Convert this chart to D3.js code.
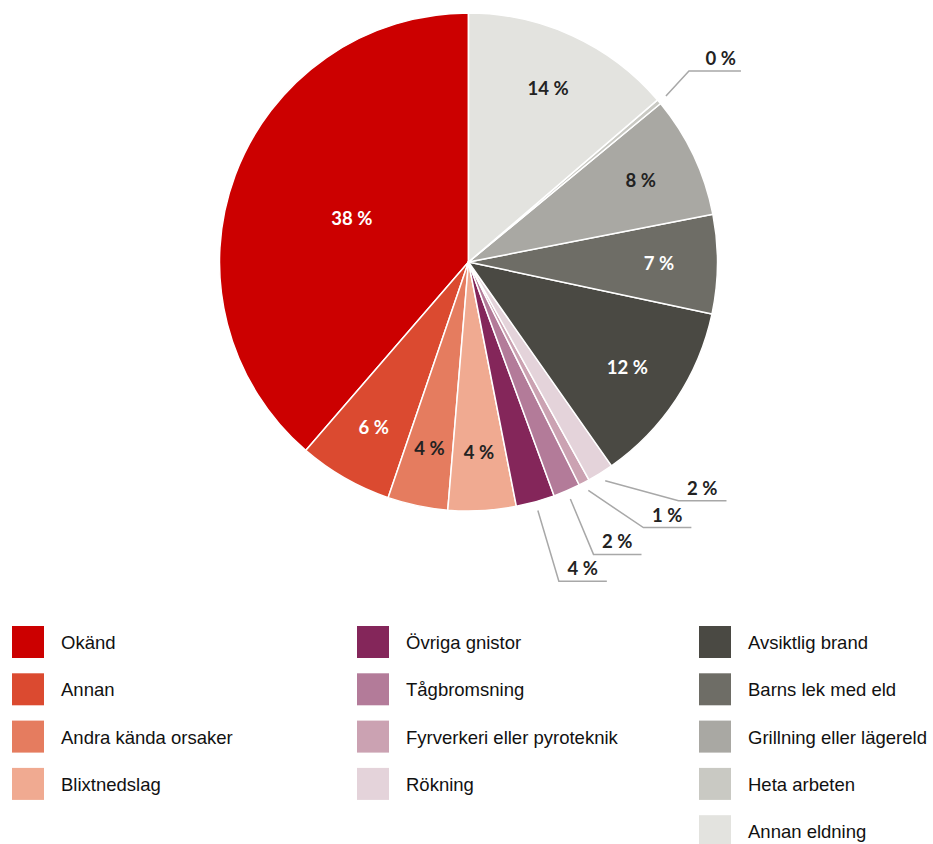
<!DOCTYPE html>
<html>
<head>
<meta charset="utf-8">
<script src="https://cdn.jsdelivr.net/npm/d3@7"></script>
<style>
  html, body { margin: 0; padding: 0; background: #fff; }
  svg { display: block; }
</style>
</head>
<body>
<svg id="chart" width="933" height="844"></svg>
<script>
// ---- data ----
const categories = [
  "Okänd", "Annan", "Andra kända orsaker", "Blixtnedslag",
  "Övriga gnistor", "Tågbromsning", "Fyrverkeri eller pyroteknik", "Rökning",
  "Avsiktlig brand", "Barns lek med eld", "Grillning eller lägereld", "Heta arbeten", "Annan eldning"
];
const values = [38.6, 6.1, 3.9, 4.4, 2.5, 1.75, 0.7, 1.7, 11.9, 6.4, 7.9, 0.3, 13.7];
const labelTexts = ["38 %", "6 %", "4 %", "4 %", "4 %", "2 %", "1 %", "2 %", "12 %", "7 %", "8 %", "0 %", "14 %"];
const colors = [
  "#cc0000", "#db4a30", "#e57c5f", "#f0aa91",
  "#84265a", "#b37b99", "#cba2b2", "#e4d3da",
  "#4a4943", "#6e6d66", "#a9a8a3", "#c9c9c3", "#e3e3df"
];
const outsideLabel = [false, false, false, false, true, true, true, true, false, false, false, true, false];
const legendColumns = [
  ["Okänd", "Annan", "Andra kända orsaker", "Blixtnedslag"],
  ["Övriga gnistor", "Tågbromsning", "Fyrverkeri eller pyroteknik", "Rökning"],
  ["Avsiktlig brand", "Barns lek med eld", "Grillning eller lägereld", "Heta arbeten", "Annan eldning"]
];

// ---- layout ----
const cx = 468.5, cy = 262, R = 249;
const svg = d3.select("#chart");
const g = svg.append("g").attr("transform", `translate(${cx},${cy})`);

const data = categories.map((c, i) => ({ name: c, value: values[i], label: labelTexts[i], color: colors[i], outside: outsideLabel[i], idx: i }));

// counter-clockwise from 12 o'clock, starting with Okänd
const pie = d3.pie().value(d => d.value).sort(null)
  .startAngle(2 * Math.PI).endAngle(0);
const arcs = pie(data);
const arc = d3.arc().innerRadius(0).outerRadius(R);

g.selectAll("path.slice").data(arcs).join("path")
  .attr("class", "slice")
  .attr("d", arc)
  .attr("fill", d => d.data.color)
  .attr("stroke", "#fff")
  .attr("stroke-width", 1.5)
  .attr("stroke-linejoin", "round");

const labelFont = "Lato, 'Open Sans', sans-serif";
const labelSize = 18.5;
const darkFill = new Set(["#cc0000", "#db4a30", "#4a4943", "#6e6d66", "#84265a"]);

// inner labels
const inner = arcs.filter(d => !d.data.outside);
g.selectAll("text.inner").data(inner).join("text")
  .attr("class", "inner")
  .each(function(d) {
    const mid = (d.startAngle + d.endAngle) / 2;
    const frac = Math.abs(d.endAngle - d.startAngle) / (2 * Math.PI);
    const r = frac > 0.25 ? R * 0.5 : R * 0.765;
    d3.select(this)
      .attr("x", r * Math.sin(mid))
      .attr("y", -r * Math.cos(mid))
      .attr("dy", "0.35em");
  })
  .attr("text-anchor", "middle")
  .attr("font-family", labelFont)
  .attr("font-weight", 700)
  .attr("font-size", labelSize)
  .attr("fill", d => darkFill.has(d.data.color) ? "#ffffff" : "#222222")
  .text(d => d.data.label);

// outside labels with leader lines
const outer = arcs.filter(d => d.data.outside).map(d => {
  const mid = (d.startAngle + d.endAngle) / 2;
  const sx = (R + 9) * Math.sin(mid), sy = -(R + 9) * Math.cos(mid);
  return { d, mid, sx, sy };
});
const lower = outer.filter(o => o.sy > 0).sort((a, b) => a.sy - b.sy);
let prevY = -Infinity;
lower.forEach(o => {
  let ey = Math.max(o.sy + 20, prevY + 26.8);
  prevY = ey;
  const rr = 318;
  const circX = ey < rr ? Math.sqrt(rr * rr - ey * ey) : 0;
  o.ex = Math.max(circX, o.sx + 21);
  o.ey = ey;
  o.lineLen = 48;
  o.textPad = 9;
});
outer.filter(o => o.sy <= 0).forEach(o => {
  o.ex = o.sx + 23;
  o.ey = o.sy - 25;
  o.lineLen = 52;
  o.textPad = 5;
});
const og = g.selectAll("g.outer").data(outer).join("g").attr("class", "outer");
og.append("polyline")
  .attr("points", o => `${o.sx},${o.sy} ${o.ex},${o.ey} ${o.ex + o.lineLen},${o.ey}`)
  .attr("fill", "none")
  .attr("stroke", "#a8a8a8")
  .attr("stroke-width", 1.5);
og.append("text")
  .attr("x", o => o.ex + o.lineLen - o.textPad)
  .attr("y", o => o.ey - 6)
  .attr("text-anchor", "end")
  .attr("font-family", labelFont)
  .attr("font-weight", 700)
  .attr("font-size", labelSize)
  .attr("fill", "#222222")
  .text(o => o.d.data.label);

// ---- legend ----
const colX = [12, 357, 699];
const legTop = 626, rowStep = 47.3, sw = 32;
const colorOf = name => colors[categories.indexOf(name)];
legendColumns.forEach((col, ci) => {
  const lg = svg.append("g").attr("transform", `translate(${colX[ci]},${legTop})`);
  const items = lg.selectAll("g").data(col).join("g")
    .attr("transform", (d, i) => `translate(0,${i * rowStep})`);
  items.append("rect")
    .attr("width", sw).attr("height", sw)
    .attr("fill", d => colorOf(d));
  items.append("text")
    .attr("x", sw + 17)
    .attr("y", 23)
    .attr("font-family", "'Liberation Sans', Arial, sans-serif")
    .attr("font-size", 18.5)
    .attr("fill", "#111")
    .text(d => d);
});
</script>
</body>
</html>
